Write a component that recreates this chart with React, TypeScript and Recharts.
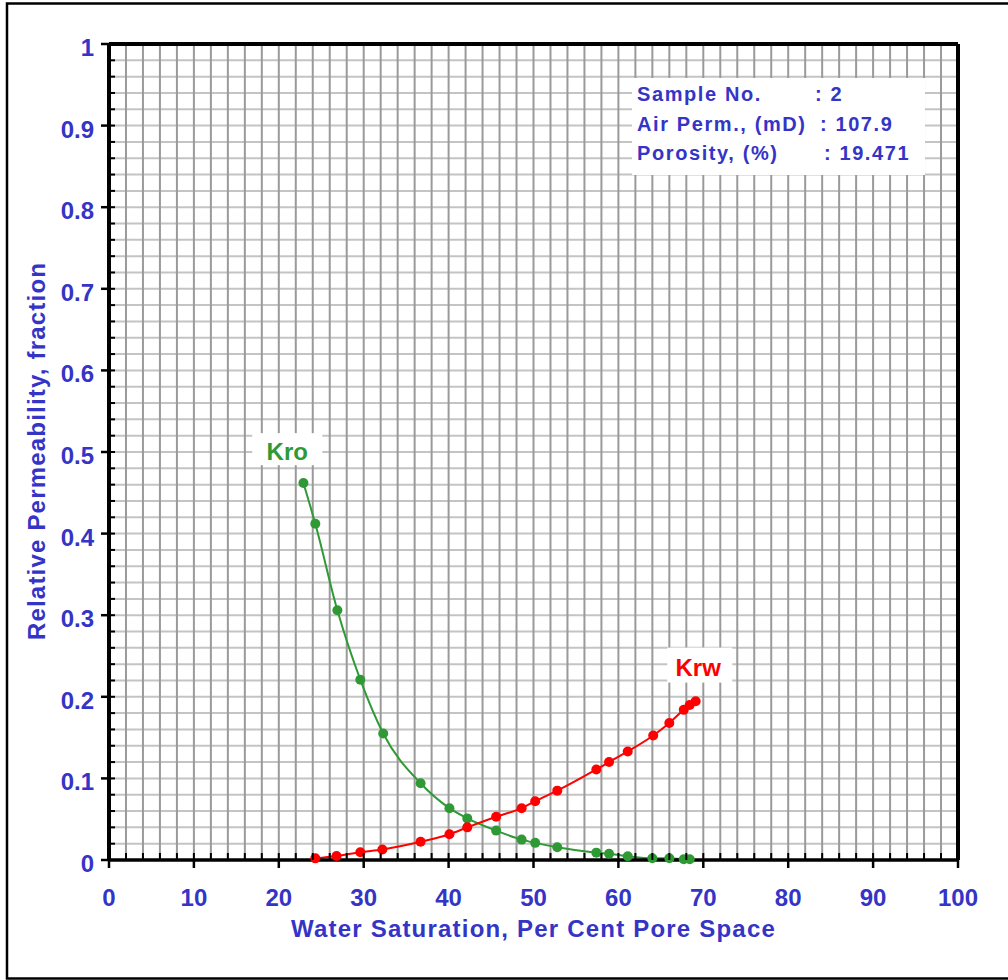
import { LineChart, Line, XAxis, YAxis, CartesianGrid, ReferenceLine, ReferenceDot } from "recharts";

// Relative permeability curves (water saturation in % pore space)
const kroSw = [22.9, 24.3, 26.9, 29.6, 32.3, 36.7, 40.1, 42.2, 45.6, 48.6, 50.2, 52.8, 57.4, 58.9, 61.1, 64.0, 66.0, 67.7, 68.4];
const kroValues = [0.462, 0.412, 0.306, 0.221, 0.155, 0.094, 0.0635, 0.051, 0.036, 0.025, 0.021, 0.0157, 0.009, 0.0076, 0.0047, 0.0022, 0.0022, 0.001, 0.001];

const krwSw = [24.3, 26.8, 29.6, 32.2, 36.7, 40.1, 42.2, 45.6, 48.6, 50.2, 52.8, 57.4, 58.9, 61.1, 64.1, 66.0, 67.7, 68.4, 69.1];
const krwValues = [0.002, 0.005, 0.0096, 0.0129, 0.0223, 0.0316, 0.04, 0.053, 0.0635, 0.072, 0.085, 0.111, 0.12, 0.133, 0.1526, 0.168, 0.184, 0.19, 0.1946];

const xMajorTicks = [0, 10, 20, 30, 40, 50, 60, 70, 80, 90, 100];
const yMajorTicks = [0, 0.1, 0.2, 0.3, 0.4, 0.5, 0.6, 0.7, 0.8, 0.9, 1];

const sampleLabels = ["Sample No.", "Air Perm., (mD)", "Porosity, (%)"];
const sampleValues = [": 2", ": 107.9", ": 19.471"];

// minor divisions: 2 % saturation, 0.02 permeability
const xMinorTicks = Array.from({ length: 51 }, (_, i) => i * 2);
const yMinorTicks = Array.from({ length: 51 }, (_, i) => i / 50);

const kroData = kroSw.map((sw, i) => ({ sw, kro: kroValues[i] }));
const krwData = krwSw.map((sw, i) => ({ sw, krw: krwValues[i] }));

const BLUE = "#3434c6";
const GREEN = "#2f9a35";
const RED = "#ff0000";
const FONT = "'Liberation Sans', Arial, sans-serif";

const findMajor = (ticks: number[], v: number) => ticks.find((t) => Math.abs(t - v) < 1e-9);

const YTick = ({ x, y, payload }: any) => {
  const major = findMajor(yMajorTicks, payload.value);
  return (
    <g>
      <line x1={x} x2={x + 6} y1={y} y2={y} stroke="#000" strokeWidth={2} />
      {major !== undefined && (
        <>
          <line x1={x - 8} x2={x} y1={y} y2={y} stroke="#000" strokeWidth={2.5} />
          <text x={x - 15} y={y + 12} textAnchor="end" fill={BLUE} fontSize={24} fontWeight="bold" fontFamily={FONT}>
            {String(major)}
          </text>
        </>
      )}
    </g>
  );
};

const XTick = ({ x, y, payload }: any) => {
  const major = findMajor(xMajorTicks, payload.value);
  return (
    <g>
      <line x1={x} x2={x} y1={y} y2={y - 7} stroke="#000" strokeWidth={2} />
      {major !== undefined && (
        <>
          <line x1={x} x2={x} y1={y} y2={y + 8} stroke="#000" strokeWidth={2.5} />
          <text x={x} y={y + 46} textAnchor="middle" fill={BLUE} fontSize={24} fontWeight="bold" fontFamily={FONT}>
            {String(major)}
          </text>
        </>
      )}
    </g>
  );
};

const curveTag = (text: string, color: string, left: number, right: number, up: number, down: number) => (p: any) => (
  <g>
    <rect x={p.cx - left} y={p.cy - up} width={left + right} height={up + down} fill="#fff" />
    <text x={p.cx} y={p.cy} textAnchor="middle" fill={color} fontSize={24} fontWeight="bold" fontFamily={FONT}>
      {text}
    </text>
  </g>
);

export default function App() {
  return (
    <div style={{ position: "absolute", left: 0, top: 0, width: 1008, height: 980, background: "#fff" }}>
      <LineChart width={1008} height={980} margin={{ top: 44, right: 50, left: 9, bottom: 60 }}>
        <CartesianGrid vertical={false} stroke="#c4c4c4" strokeWidth={2} />
        <CartesianGrid horizontal={false} stroke="#9a9a9a" strokeWidth={2} />
        <CartesianGrid yAxisId="major" vertical={false} stroke="#8a8a8a" strokeWidth={2} />
        <CartesianGrid xAxisId="major" horizontal={false} stroke="#7a7a7a" strokeWidth={2} />
        <XAxis
          type="number"
          dataKey="sw"
          domain={[0, 100]}
          ticks={xMinorTicks}
          interval={0}
          height={60}
          tickSize={0}
          tickMargin={0}
          tickLine={false}
          tick={<XTick />}
          axisLine={{ stroke: "#000", strokeWidth: 3.5 }}
        />
        <XAxis xAxisId="major" type="number" domain={[0, 100]} ticks={xMajorTicks} hide />
        <YAxis
          type="number"
          domain={[0, 1]}
          ticks={yMinorTicks}
          interval={0}
          width={100}
          tickSize={0}
          tickMargin={0}
          tickLine={false}
          tick={<YTick />}
          axisLine={{ stroke: "#000", strokeWidth: 4 }}
        />
        <YAxis yAxisId="major" type="number" domain={[0, 1]} ticks={yMajorTicks} hide />
        <ReferenceLine y={1} stroke="#000" strokeWidth={4} />
        <ReferenceLine x={100} stroke="#000" strokeWidth={4} />
        <Line
          data={kroData}
          dataKey="kro"
          type="monotone"
          stroke={GREEN}
          strokeWidth={2}
          dot={{ r: 5, fill: GREEN, stroke: "none" }}
          isAnimationActive={false}
        />
        <Line
          data={krwData}
          dataKey="krw"
          type="monotone"
          stroke={RED}
          strokeWidth={2}
          dot={{ r: 5, fill: RED, stroke: "none" }}
          isAnimationActive={false}
        />
        <ReferenceDot x={21} y={0.49} shape={curveTag("Kro", GREEN, 35, 35, 27, 5)} />
        <ReferenceDot x={69.4} y={0.226} shape={curveTag("Krw", RED, 31, 34, 28, 7)} />
      </LineChart>
      <svg width={1008} height={980} style={{ position: "absolute", left: 0, top: 0, pointerEvents: "none" }}>
        <rect x={7} y={3.5} width={1010} height={975} fill="none" stroke="#000" strokeWidth={2.5} />
        <text x={533.5} y={937} textAnchor="middle" fill={BLUE} fontSize={24} fontWeight="bold" fontFamily={FONT} letterSpacing={1.2}>
          Water Saturation, Per Cent Pore Space
        </text>
        <text
          x={0}
          y={0}
          transform="translate(45 451) rotate(-90)"
          textAnchor="middle"
          fill={BLUE}
          fontSize={24}
          fontWeight="bold"
          fontFamily={FONT}
          letterSpacing={1.2}
        >
          Relative Permeability, fraction
        </text>
        <rect x={632} y={78} width={293} height={97} fill="#fff" />
        {sampleLabels.map((label, i) => (
          <g key={label} fill={BLUE} fontSize={20} fontWeight="bold" fontFamily={FONT} letterSpacing={1.6}>
            <text x={637} y={[100.5, 131, 160][i]}>{label}</text>
            <text x={[815, 820, 824][i]} y={[100.5, 131, 160][i]}>{sampleValues[i]}</text>
          </g>
        ))}
      </svg>
    </div>
  );
}
